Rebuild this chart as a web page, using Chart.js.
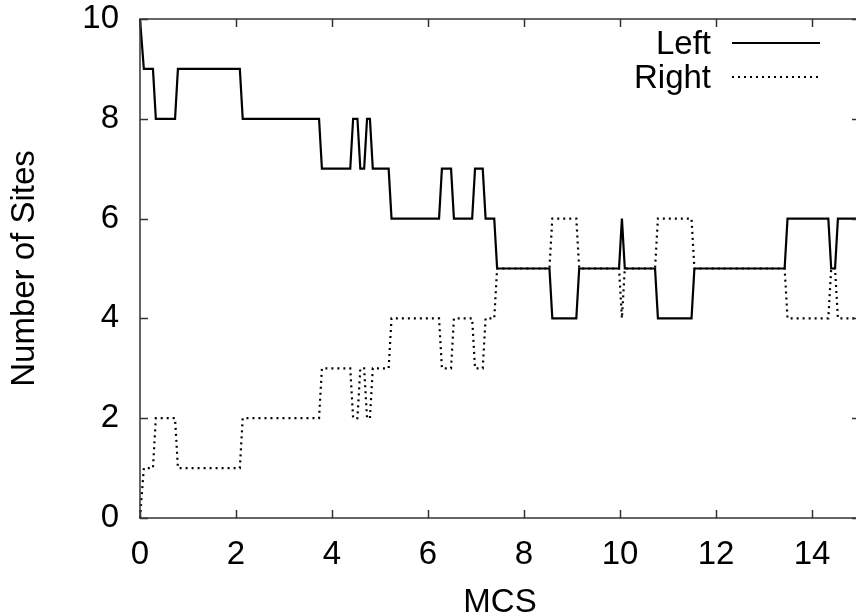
<!DOCTYPE html>
<html>
<head>
<meta charset="utf-8">
<script src="https://cdn.jsdelivr.net/npm/chart.js@4.4.1/dist/chart.umd.min.js"></script>
<style>
  html, body { margin: 0; padding: 0; background: #fff; overflow: hidden; }
  #wrap { width: 856px; height: 616px; overflow: hidden; }
</style>
</head>
<body>
<div id="wrap"><canvas id="myChart" width="880" height="616"></canvas></div>
<script>
'use strict';

// sample times (MCS) where the counts change
const mcs = [0, 0.08, 0.27, 0.33, 0.73, 0.79, 2.08, 2.14, 3.73, 3.79,
  4.38, 4.44, 4.53, 4.59, 4.67, 4.73, 4.79, 4.85, 5.18, 5.24,
  6.23, 6.29, 6.48, 6.54, 6.92, 6.98, 7.14, 7.2, 7.38, 7.44,
  8.53, 8.59, 9.09, 9.15, 9.98, 10.04, 10.1, 10.73, 10.79, 11.49,
  11.55, 13.43, 13.49, 14.34, 14.4, 14.48, 14.54, 15];

const leftSites = [10, 9, 9, 8, 8, 9, 9, 8, 8, 7,
  7, 8, 8, 7, 7, 8, 8, 7, 7, 6,
  6, 7, 7, 6, 6, 7, 7, 6, 6, 5,
  5, 4, 4, 5, 5, 6, 5, 5, 4, 4,
  5, 5, 6, 6, 5, 5, 6, 6];

const rightSites = [0, 1, 1, 2, 2, 1, 1, 2, 2, 3,
  3, 2, 2, 3, 3, 2, 2, 3, 3, 4,
  4, 3, 3, 4, 4, 3, 3, 4, 4, 5,
  5, 6, 6, 5, 5, 4, 5, 5, 6, 6,
  5, 5, 4, 4, 5, 5, 4, 4];

const FONT = '"Liberation Sans", Arial, Helvetica, sans-serif';
const FSIZE = 33;

// gnuplot style box with inward ticks on all sides
const framePlugin = {
  id: 'frame',
  afterDraw(chart) {
    const c = chart.ctx;
    const a = chart.chartArea;
    const xs = chart.scales.x, ys = chart.scales.y;
    c.save();
    c.strokeStyle = '#333';
    c.lineWidth = 1.5;
    c.strokeRect(a.left, a.top, a.right - a.left, a.bottom - a.top);
    c.beginPath();
    xs.ticks.forEach(t => {
      const px = Math.round(xs.getPixelForValue(t.value)) + 0.5;
      c.moveTo(px, a.bottom); c.lineTo(px, a.bottom - 8);
      c.moveTo(px, a.top); c.lineTo(px, a.top + 8);
    });
    ys.ticks.forEach(t => {
      const py = Math.round(ys.getPixelForValue(t.value)) + 0.5;
      c.moveTo(a.left, py); c.lineTo(a.left + 8, py);
      c.moveTo(a.right, py); c.lineTo(a.right - 8, py);
    });
    c.stroke();
    c.restore();
  }
};

// key in the top right corner: text then line sample
const keyPlugin = {
  id: 'key',
  afterDraw(chart) {
    const c = chart.ctx;
    c.save();
    c.font = FSIZE + 'px ' + FONT;
    c.textAlign = 'right';
    c.textBaseline = 'middle';
    chart.data.datasets.forEach((ds, i) => {
      const y = 43 + i * 34;
      c.fillStyle = '#000';
      c.fillText(ds.label, 711, y + 2);
      c.beginPath();
      c.strokeStyle = ds.borderColor;
      c.lineWidth = ds.borderWidth;
      c.setLineDash(ds.borderDash || []);
      c.moveTo(732, y);
      c.lineTo(820, y);
      c.stroke();
    });
    c.restore();
  }
};

const ctx = document.getElementById('myChart');

const myChart = new Chart(ctx, {
  type: 'line',
  data: {
    datasets: [{
      label: 'Left',
      data: mcs.map((x, i) => ({ x: x, y: leftSites[i] })),
      borderColor: '#000',
      borderWidth: 2.2,
      pointRadius: 0,
      tension: 0,
      clip: 4
    }, {
      label: 'Right',
      data: mcs.map((x, i) => ({ x: x, y: rightSites[i] })),
      borderColor: '#000',
      borderWidth: 2.2,
      borderDash: [2, 4],
      pointRadius: 0,
      tension: 0,
      clip: 4
    }]
  },
  options: {
    responsive: false,
    animation: false,
    devicePixelRatio: 1,
    layout: { padding: { left: 0, top: 19, right: 20, bottom: 0 } },
    plugins: {
      legend: { display: false },
      tooltip: { enabled: false }
    },
    scales: {
      x: {
        type: 'linear',
        min: 0,
        max: 15,
        grid: { display: false, drawTicks: false },
        border: { display: false },
        afterFit: s => { s.height = 98; s.paddingLeft = 0; s.paddingRight = 0; },
        ticks: {
          stepSize: 2,
          includeBounds: false,
          maxRotation: 0,
          padding: 17,
          color: '#000',
          font: { family: FONT, size: FSIZE }
        },
        title: {
          display: true,
          text: 'MCS',
          color: '#000',
          font: { family: FONT, size: FSIZE, lineHeight: 0.8 },
          padding: { top: 0, bottom: 0 }
        }
      },
      y: {
        min: 0,
        max: 10,
        grid: { display: false, drawTicks: false },
        border: { display: false },
        afterFit: s => { s.width = 140; s.paddingTop = 0; s.paddingBottom = 0; },
        ticks: {
          stepSize: 2,
          padding: 21,
          color: '#000',
          font: { family: FONT, size: FSIZE }
        },
        title: {
          display: true,
          text: 'Number of Sites',
          color: '#000',
          font: { family: FONT, size: FSIZE, lineHeight: 1 },
          padding: { top: 8, bottom: 0 }
        }
      }
    }
  },
  plugins: [framePlugin, keyPlugin]
});
</script>
</body>
</html>
